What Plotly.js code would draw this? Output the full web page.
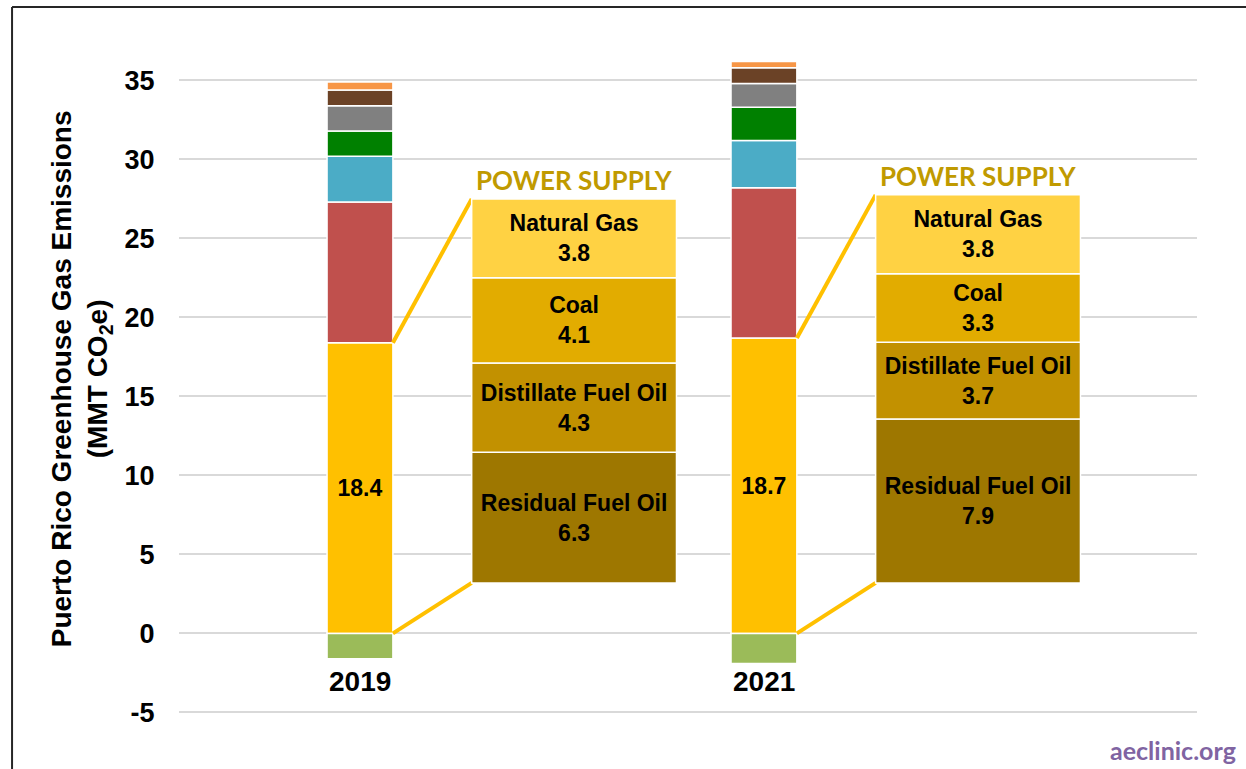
<!DOCTYPE html>
<html>
<head>
<meta charset="utf-8">
<script src="https://cdn.plot.ly/plotly-3.0.1.min.js"></script>
<style>
  html, body { margin: 0; padding: 0; background: #ffffff; }
  #chart { width: 1246px; height: 769px; }
</style>
</head>
<body>
<div id="chart"></div>
<script>
// ---------------- DATA ----------------
const years = ['2019', '2021'];

// main stacked bars (MMT CO2e)
const powerSupply = [18.4, 18.7];
const seriesRed    = [8.9, 9.5];
const seriesBlue   = [2.9, 3.0];
const seriesGreen  = [1.6, 2.1];
const seriesGray   = [1.6, 1.5];
const seriesBrown  = [1.0, 1.0];
const seriesOrange = [0.5, 0.4];
const seriesSink   = [-1.6, -1.9];

// power supply breakdown (bottom to top)
const fuels    = ['Residual Fuel Oil', 'Distillate Fuel Oil', 'Coal', 'Natural Gas'];
const fuel2019 = [6.3, 4.3, 4.1, 3.8];
const fuel2021 = [7.9, 3.7, 3.3, 3.8];

const yTicks = [-5, 0, 5, 10, 15, 20, 25, 30, 35];

// ---------------- STYLE / LAYOUT CONSTANTS ----------------
const FONT = 'Liberation Sans, Arial, sans-serif';
const yearPos = [0, 1];
const barW = 0.163;
const boxOffset = 0.53;
const boxW = 0.507;
const y1Range = [-7.06, 38.0];
const y2Range = [-7.81, 26.5];

const stackColors = {
  power: '#FFC000', red: '#C0504D', blue: '#4BACC6', green: '#008000',
  gray: '#808080', brown: '#6B4226', orange: '#F79646', sink: '#9BBB59'
};
const fuelColors = ['#9E7700', '#C29100', '#E2AC00', '#FFD243'];

function y2to1(v) {
  return y1Range[0] + (v - y2Range[0]) / (y2Range[1] - y2Range[0]) * (y1Range[1] - y1Range[0]);
}

const traces = [];
function mainBar(name, vals, color, withText) {
  const t = {
    type: 'bar', name: name, x: yearPos, y: vals, width: barW,
    marker: { color: color, line: { color: '#ffffff', width: 1.5 } },
    hoverinfo: 'name+y', showlegend: false
  };
  if (withText) {
    t.text = vals.map(v => v.toFixed(1));
    t.textposition = 'inside';
    t.insidetextanchor = 'middle';
    t.textangle = 0;
    t.textfont = { family: FONT, size: 23, color: '#000000', weight: 'bold' };
  }
  return t;
}
traces.push(mainBar('Power Supply', powerSupply, stackColors.power, true));
traces.push(mainBar('Series 2', seriesRed, stackColors.red));
traces.push(mainBar('Series 3', seriesBlue, stackColors.blue));
traces.push(mainBar('Series 4', seriesGreen, stackColors.green));
traces.push(mainBar('Series 5', seriesGray, stackColors.gray));
traces.push(mainBar('Series 6', seriesBrown, stackColors.brown));
traces.push(mainBar('Series 7', seriesOrange, stackColors.orange));
traces.push(mainBar('Sinks', seriesSink, stackColors.sink));

// breakdown boxes on y2
const fuelData = [fuel2019, fuel2021];
fuels.forEach((f, i) => {
  const vals = fuelData.map(d => d[i]);
  traces.push({
    type: 'bar', name: f, x: yearPos.map(p => p + boxOffset), y: vals, width: boxW,
    yaxis: 'y2',
    marker: { color: fuelColors[i], line: { color: '#ffffff', width: 1.5 } },
    text: vals.map(v => f + '<br>' + v.toFixed(1)),
    textposition: 'inside', insidetextanchor: 'middle', textangle: 0,
    constraintext: 'none',
    textfont: { family: FONT, size: 23, color: '#000000', weight: 'bold' },
    hoverinfo: 'name+y', showlegend: false
  });
});

// connector lines
yearPos.forEach((p, k) => {
  const total = fuelData[k].reduce((a, b) => a + b, 0);
  const xs = [p + barW / 2, p + boxOffset - boxW / 2];
  traces.push({
    type: 'scatter', mode: 'lines', x: xs, y: [powerSupply[k], y2to1(total)],
    line: { color: '#FFC000', width: 4 }, hoverinfo: 'skip', showlegend: false
  });
  traces.push({
    type: 'scatter', mode: 'lines', x: xs, y: [0, y2to1(0)],
    line: { color: '#FFC000', width: 4 }, hoverinfo: 'skip', showlegend: false
  });
});

const annotations = [];
years.forEach((yr, k) => {
  annotations.push({
    x: yearPos[k], y: -3.07, xref: 'x', yref: 'y', text: yr, showarrow: false,
    font: { family: FONT, size: 28, color: '#000000', weight: 'bold' },
    xanchor: 'center', yanchor: 'middle'
  });
  const total = fuelData[k].reduce((a, b) => a + b, 0);
  annotations.push({
    x: yearPos[k] + boxOffset, y: total, xref: 'x', yref: 'y2', text: 'POWER SUPPLY',
    showarrow: false, xanchor: 'center', yanchor: 'bottom', yshift: 1,
    font: { family: 'Lato, Open Sans, sans-serif', size: 26, color: '#C09A00', weight: 'bold' }
  });
});
annotations.push({
  xref: 'paper', yref: 'paper', x: -0.0963, y: 0.515, textangle: -90,
  text: 'Puerto Rico Greenhouse Gas Emissions<br>(MMT CO<sub>2</sub>e)',
  showarrow: false, xanchor: 'center', yanchor: 'middle',
  font: { family: FONT, size: 28, color: '#000000', weight: 'bold' }
});
annotations.push({
  xref: 'paper', yref: 'paper', x: 1.040, y: -0.007, text: 'aeclinic.org',
  showarrow: false, xanchor: 'right', yanchor: 'middle',
  font: { family: 'Lato, Open Sans, sans-serif', size: 25, color: '#8064A2', weight: 'bold' }
});

const layout = {
  width: 1246, height: 769,
  margin: { l: 179, r: 49, t: 33, b: 24, pad: 0 },
  paper_bgcolor: '#ffffff', plot_bgcolor: '#ffffff',
  barmode: 'relative',
  showlegend: false,
  xaxis: {
    range: [-0.448, 2.072], showticklabels: false, showgrid: false,
    zeroline: false, showline: false, fixedrange: true
  },
  yaxis: {
    range: y1Range, tickvals: yTicks, ticktext: yTicks.map(String),
    showgrid: true, gridcolor: '#D9D9D9', gridwidth: 2,
    zeroline: true, zerolinecolor: '#D9D9D9', zerolinewidth: 2,
    showline: false, ticks: 'outside', ticklen: 18, tickcolor: 'rgba(0,0,0,0)',
    tickfont: { family: FONT, size: 27, color: '#000000', weight: 'bold' }
  },
  yaxis2: {
    range: y2Range, overlaying: 'y', visible: false, showgrid: false, zeroline: false
  },
  annotations: annotations,
  shapes: [
    { type: 'line', xref: 'paper', yref: 'paper', x0: -0.164, x1: -0.164, y0: -0.04, y1: 1.0365,
      line: { color: '#262626', width: 2 } },
    { type: 'line', xref: 'paper', yref: 'paper', x0: -0.164, x1: 1.06, y0: 1.0365, y1: 1.0365,
      line: { color: '#262626', width: 2 } }
  ]
};

Plotly.newPlot('chart', traces, layout, { displayModeBar: false, staticPlot: true });
</script>
</body>
</html>
